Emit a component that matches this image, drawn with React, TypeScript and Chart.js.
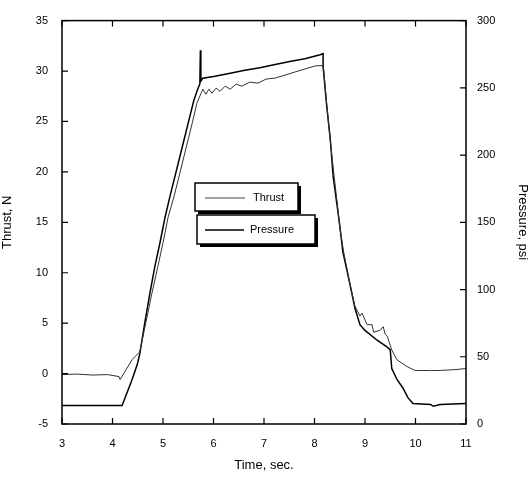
import React, { useEffect, useRef } from "react";
import { Chart, registerables } from "chart.js";

Chart.register(...registerables);

// Time axis (s) and thrust (N)
const thrustTime = [
  3.0, 3.3, 3.6, 3.9, 4.13, 4.15, 4.27, 4.39, 4.54, 4.66, 4.78, 4.9, 5.0, 5.1, 5.22, 5.34, 5.46, 5.58, 5.67, 5.75,
  5.79, 5.85, 5.91, 5.97, 6.05, 6.13, 6.23, 6.33, 6.45, 6.56, 6.72, 6.88, 7.04, 7.22, 7.42, 7.61, 7.81, 8.01, 8.15,
  8.18, 8.25, 8.31, 8.39, 8.45, 8.5, 8.58, 8.7, 8.8, 8.9, 8.94, 9.04, 9.14, 9.17, 9.3, 9.36, 9.4, 9.44, 9.53, 9.63,
  9.83, 9.99, 10.3, 10.49, 10.8, 11.0,
];
const thrustValues = [
  -0.1, -0.05, -0.15, -0.1, -0.3, -0.6, 0.4, 1.4, 2.15, 5.05, 7.95, 10.65, 12.97, 15.48, 17.6, 20.0, 22.44, 24.86, 26.8, 27.75,
  28.2, 27.7, 28.2, 27.8, 28.3, 28.0, 28.5, 28.2, 28.7, 28.5, 28.9, 28.8, 29.2, 29.3, 29.6, 29.9, 30.2, 30.5, 30.55,
  30.2, 26.3, 23.2, 19.5, 16.9, 14.5, 12.0, 8.9, 6.7, 5.7, 6.0, 4.85, 4.85, 4.1, 4.3, 4.65, 3.9, 3.7, 2.34, 1.38,
  0.7, 0.31, 0.3, 0.31, 0.4, 0.5,
];

// Time axis (s) and chamber pressure (psi)
const pressureTime = [
  3.0, 4.19, 4.39, 4.49, 4.54, 4.64, 4.74, 4.84, 4.94, 5.04, 5.14, 5.26, 5.38, 5.5, 5.61, 5.69, 5.73, 5.74, 5.75, 5.79,
  6.03, 6.33, 6.62, 6.92, 7.22, 7.51, 7.81, 8.11, 8.17, 8.17, 8.24, 8.31, 8.37, 8.44, 8.5, 8.56, 8.7, 8.8,
  8.9, 9.0, 9.24, 9.44, 9.5, 9.53, 9.63, 9.75, 9.85, 9.95, 10.3, 10.35, 10.49, 11.0,
];
const pressureValues = [
  13.8, 13.8, 33.3, 44.2, 52.2, 75.4, 97.1, 117.4, 134.8, 153.6, 169.6, 187.7, 205.8, 223.9, 240.6, 249.3, 252.9, 278, 255, 257.2,
  258.6, 260.9, 263, 265, 267.4, 269.6, 271.7, 274.6, 275.4, 266, 237, 213, 184, 164.5, 147.8, 128.3, 104.3, 86.2,
  73.9, 69.6, 62.3, 57.2, 55.1, 41.3, 33.3, 26.8, 19.6, 15.2, 14.5, 13.2, 14.5, 15.2,
];

const xTicks = [3, 4, 5, 6, 7, 8, 9, 10, 11];
const thrustTicks = [-5, 0, 5, 10, 15, 20, 25, 30, 35];
const pressureTicks = [0, 50, 100, 150, 200, 250, 300];

const FONT = "'Liberation Sans', Arial, Helvetica, sans-serif";

const framePlugin = {
  id: "frame",
  afterDraw(chart: any) {
    const { ctx, chartArea, scales } = chart;
    const { left, right, top, bottom } = chartArea;
    ctx.save();
    ctx.strokeStyle = "#000";
    ctx.lineWidth = 1.5;
    ctx.strokeRect(left, top, right - left, bottom - top);
    ctx.lineWidth = 1.2;
    const tl = 6;
    ctx.beginPath();
    xTicks.forEach((v) => {
      const px = scales.x.getPixelForValue(v);
      ctx.moveTo(px, bottom);
      ctx.lineTo(px, bottom - tl);
      ctx.moveTo(px, top);
      ctx.lineTo(px, top + tl);
    });
    thrustTicks.forEach((v) => {
      const py = scales.y.getPixelForValue(v);
      ctx.moveTo(left, py);
      ctx.lineTo(left + tl, py);
    });
    pressureTicks.forEach((v) => {
      const py = scales.y2.getPixelForValue(v);
      ctx.moveTo(right, py);
      ctx.lineTo(right - tl, py);
    });
    ctx.stroke();

    // legend boxes
    const drawBox = (x: number, y: number, w: number, h: number) => {
      ctx.fillStyle = "#fff";
      ctx.fillRect(x, y, w, h);
      ctx.fillStyle = "#000";
      ctx.fillRect(x + 3, y + h, w, 3);
      ctx.fillRect(x + w, y + 3, 3, h);
      ctx.lineWidth = 1.5;
      ctx.strokeStyle = "#000";
      ctx.strokeRect(x, y, w, h);
    };
    drawBox(195, 183, 103, 28);
    drawBox(197, 215, 118, 29);
    ctx.beginPath();
    ctx.lineWidth = 1;
    ctx.strokeStyle = "#444";
    ctx.moveTo(205, 198);
    ctx.lineTo(245, 198);
    ctx.stroke();
    ctx.beginPath();
    ctx.lineWidth = 1.5;
    ctx.strokeStyle = "#000";
    ctx.moveTo(205, 230);
    ctx.lineTo(244, 230);
    ctx.stroke();
    ctx.fillStyle = "#000";
    ctx.font = `11px ${FONT}`;
    ctx.textBaseline = "middle";
    ctx.textAlign = "left";
    ctx.fillText("Thrust", 253, 198);
    ctx.fillText("Pressure", 250, 230);
    ctx.restore();
  },
};

export default function App() {
  const ref = useRef<HTMLCanvasElement | null>(null);
  useEffect(() => {
    document.body.style.margin = "0";
    const canvas = ref.current;
    if (!canvas) return;
    const thrustData = thrustTime.map((t, i) => ({ x: t, y: thrustValues[i] }));
    const pressureData = pressureTime.map((t, i) => ({ x: t, y: pressureValues[i] }));
    const tickFont = { family: FONT, size: 11 };
    const titleFont = { family: FONT, size: 13 };
    const chart = new Chart(canvas, {
      type: "line",
      data: {
        datasets: [
          {
            label: "Thrust",
            data: thrustData,
            yAxisID: "y",
            borderColor: "#333",
            borderWidth: 1,
            pointRadius: 0,
            tension: 0,
          },
          {
            label: "Pressure",
            data: pressureData,
            yAxisID: "y2",
            borderColor: "#000",
            borderWidth: 1.5,
            pointRadius: 0,
            tension: 0,
          },
        ],
      },
      options: {
        responsive: false,
        animation: false,
        events: [],
        layout: { padding: { top: 10, left: 0, right: 0, bottom: 0 } },
        plugins: { legend: { display: false }, tooltip: { enabled: false } },
        scales: {
          x: {
            type: "linear",
            min: 3,
            max: 11,
            afterBuildTicks: (s: any) => {
              s.ticks = xTicks.map((v) => ({ value: v }));
            },
            ticks: { font: tickFont, color: "#000", padding: 13, maxRotation: 0 },
            grid: { display: false, drawTicks: false },
            border: { display: false },
            title: { display: true, text: "Time, sec.", font: titleFont, color: "#000", padding: { top: 0, bottom: 5 } },
            afterFit: (s: any) => {
              s.height = 54;
            },
          },
          y: {
            type: "linear",
            position: "left",
            min: -5,
            max: 35,
            afterBuildTicks: (s: any) => {
              s.ticks = thrustTicks.map((v) => ({ value: v }));
            },
            ticks: { font: tickFont, color: "#000", padding: 14 },
            grid: { display: false, drawTicks: false },
            border: { display: false },
            title: { display: true, text: "Thrust, N", font: titleFont, color: "#000", padding: { top: 0, bottom: 11 } },
            afterFit: (s: any) => {
              s.width = 62;
            },
          },
          y2: {
            type: "linear",
            position: "right",
            min: 0,
            max: 300,
            afterBuildTicks: (s: any) => {
              s.ticks = pressureTicks.map((v) => ({ value: v }));
            },
            ticks: { font: tickFont, color: "#000", padding: 11 },
            grid: { display: false, drawTicks: false },
            border: { display: false },
            title: { display: true, text: "Pressure, psi", font: titleFont, color: "#000", padding: { top: 0, bottom: 3 } },
            afterFit: (s: any) => {
              s.width = 64;
            },
          },
        },
      },
      plugins: [framePlugin],
    });
    return () => chart.destroy();
  }, []);
  return (
    <div style={{ position: "absolute", left: 0, top: 0, width: 530, height: 478, background: "#fff" }}>
      <canvas ref={ref} width={530} height={478} style={{ display: "block" }} />
    </div>
  );
}
